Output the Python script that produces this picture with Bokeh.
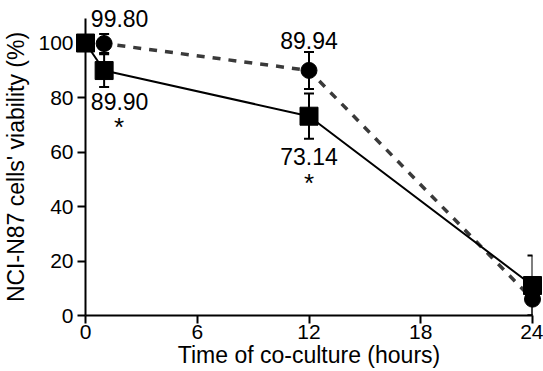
from bokeh.plotting import figure
from bokeh.models import ColumnDataSource, Whisker, TeeHead, Range1d, FixedTicker
from bokeh.core.properties import value
from bokeh.embed import file_html
from bokeh.resources import INLINE

# ---- data ----
hours = [0, 1, 12, 24]
square_viability = [100.0, 89.90, 73.14, 11.0]
square_err = [0.0, 6.0, 8.3, 11.0]
circle_viability = [100.0, 99.80, 89.94, 6.0]
circle_err = [0.0, 3.5, 6.8, 6.0]
x_ticks = [0, 6, 12, 18, 24]
y_ticks = [0, 20, 40, 60, 80, 100]
value_labels = ["99.80", "89.90", "89.94", "73.14"]
label_hours = [1, 1, 12, 12]
label_values = [99.80, 89.90, 89.94, 73.14]
star_hours = [1, 12]
star_values = [89.90, 73.14]

FONT = "Liberation Sans"

p = figure(width=543, height=371, output_backend="svg", toolbar_location=None,
           x_range=Range1d(0, 24), y_range=Range1d(0, 109),
           min_border_left=85, min_border_right=11, min_border_top=18,
           min_border_bottom=56)
p.background_fill_color = "white"
p.border_fill_color = "white"
p.outline_line_color = None
p.xgrid.visible = False
p.ygrid.visible = False

for ax in (p.xaxis[0], p.yaxis[0]):
    ax.axis_line_width = 2
    ax.axis_line_color = "black"
    ax.major_tick_line_width = 2
    ax.major_tick_line_color = "black"
    ax.major_tick_out = 8
    ax.major_tick_in = 0
    ax.minor_tick_line_color = None
    ax.major_label_text_font = FONT
    ax.major_label_text_font_size = "21px"
    ax.major_label_text_color = "black"
    ax.axis_label_text_font = FONT
    ax.axis_label_text_font_size = "23px"
    ax.axis_label_text_font_style = "normal"
    ax.axis_label_text_color = "black"

p.xaxis.ticker = FixedTicker(ticks=x_ticks)
p.yaxis.ticker = FixedTicker(ticks=y_ticks)
p.xaxis.axis_label = "Time of co-culture (hours)"
p.yaxis.axis_label = "NCI-N87 cells' viability (%)"
p.xaxis.major_label_standoff = 1
p.xaxis.axis_label_standoff = 0
p.yaxis.major_label_standoff = 4
p.yaxis.axis_label_standoff = 6

# error bars
for vals, errs in ((circle_viability, circle_err), (square_viability, square_err)):
    idx = [i for i, e in enumerate(errs) if e > 0]
    src = ColumnDataSource(dict(
        x=[hours[i] for i in idx],
        upper=[vals[i] + errs[i] for i in idx],
        lower=[vals[i] - errs[i] for i in idx]))
    w = Whisker(base="x", upper="upper", lower="lower", source=src,
                dimension="height", line_width=2, line_color="black",
                upper_head=TeeHead(size=10, line_width=2, line_color="black"),
                lower_head=TeeHead(size=10, line_width=2, line_color="black"))
    p.add_layout(w)

# lines
p.line(hours, circle_viability, line_width=3.5, line_color="#3a3a3a", line_dash="8 8")
p.line(hours, square_viability, line_width=2, line_color="black")

# markers
r1 = p.scatter(hours, circle_viability, marker="circle", size=16,
               fill_color="black", line_color="black")
r2 = p.scatter(hours, square_viability, marker="square", size=18,
               fill_color="black", line_color="black")
r1.level = "overlay"
r2.level = "overlay"

# value labels
lab_src = ColumnDataSource(dict(x=label_hours, y=label_values, t=value_labels,
                                dx=[15.5, 15.5, 0, 0], dy=[-25.5, 31, -29.5, 40.5]))
t1 = p.text(x="x", y="y", text="t", x_offset="dx", y_offset="dy", source=lab_src,
            text_align="center", text_baseline="middle",
            text_font=value(FONT), text_font_size="23px", text_color="black")
t1.level = "overlay"

star_src = ColumnDataSource(dict(x=star_hours, y=star_values, t=["*"] * len(star_hours),
                                 dx=[15, 0], dy=[56, 67]))
t2 = p.text(x="x", y="y", text="t", x_offset="dx", y_offset="dy", source=star_src,
            text_align="center", text_baseline="middle",
            text_font=value(FONT), text_font_size="26px", text_color="black")
t2.level = "overlay"

open("out.html", "w").write(file_html(p, INLINE))
